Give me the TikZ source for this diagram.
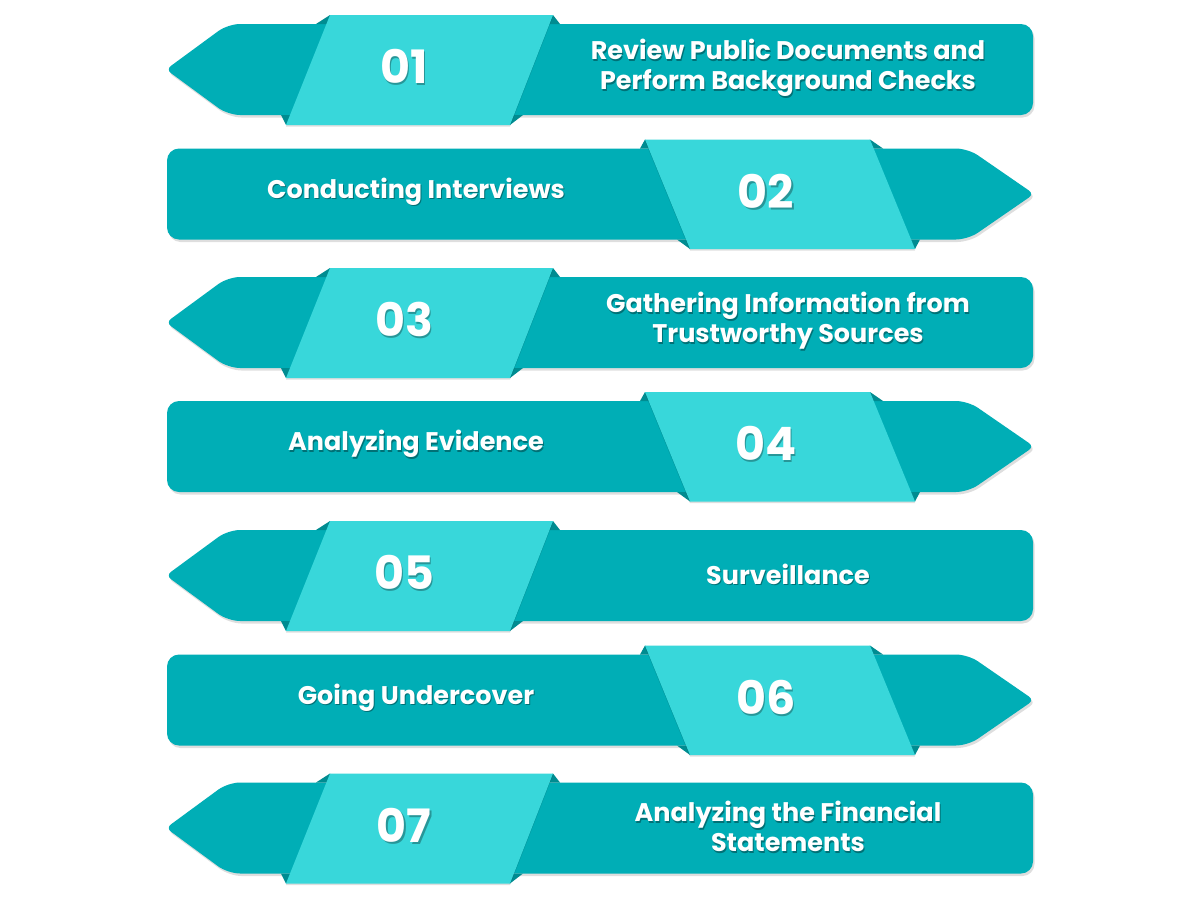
\documentclass[tikz,border=0pt]{standalone}
\usepackage{fontspec}
\setmainfont{Poppins}
\definecolor{bandc}{HTML}{00AEB6}
\definecolor{parac}{HTML}{38D7DA}
\definecolor{foldc}{HTML}{008C91}
\tikzset{
  bandfill/.style={fill=bandc},
  parafill/.style={fill=parac},
  foldfill/.style={fill=foldc},
  dropshade/.style={fill=black,opacity=0.13},
  txt/.style={text=white,font=\bfseries\fontsize{25.5}{30}\selectfont,align=center,inner sep=0pt},
  txtshadow/.style={text=black,text opacity=0.35,font=\bfseries\fontsize{25.5}{30}\selectfont,align=center,inner sep=0pt},
  numtxt/.style={text=white,font=\bfseries\fontsize{46}{46}\selectfont,inner sep=0pt},
  numshadow/.style={text=black,text opacity=0.3,font=\bfseries\fontsize{46}{46}\selectfont,inner sep=0pt},
}
% odd banner: arrow to the left, number at left
\newcommand\oddbanner[4]{%
  \pgfmathsetmacro\bT{#1-45.5}\pgfmathsetmacro\bB{#1+45.5}%
  \pgfmathsetmacro\pT{#1-54.5}\pgfmathsetmacro\pB{#1+55.5}%
  \pgfmathsetmacro\cY{#1}\pgfmathsetmacro\tY{#1-1.5}\pgfmathsetmacro\nY{#1-3}%
  \fill[dropshade,shift={(1.5,2.5)},rounded corners=12] (600,\bT) -- (1033,\bT) -- (1033,\bB) -- (228,\bB) [rounded corners=6]-- (166,\cY) [rounded corners=12]-- (228,\bT) -- cycle;
  \fill[bandfill,rounded corners=12] (600,\bT) -- (1033,\bT) -- (1033,\bB) -- (228,\bB) [rounded corners=6]-- (166,\cY) [rounded corners=12]-- (228,\bT) -- cycle;
  \fill[foldfill] (330,\pT) -- (316,\bT) -- (336,\bT) -- cycle;
  \fill[foldfill] (553,\pT) -- (560,\bT) -- (543,\bT) -- cycle;
  \fill[foldfill] (286,\pB) -- (281,\bB) -- (296,\bB) -- cycle;
  \fill[foldfill] (510,\pB) -- (523,\bB) -- (503,\bB) -- cycle;
  \fill[dropshade,shift={(0,1.5)}] (330,\pT) -- (553,\pT) -- (510,\pB) -- (286,\pB) -- cycle;
  \fill[parafill] (330,\pT) -- (553,\pT) -- (510,\pB) -- (286,\pB) -- cycle;
  \node[numshadow] (ns#4) at (405.5,\nY+2) {#2};
  \node[numtxt] (n#4) at (404,\nY) {#2};
  \node[txtshadow] (ts#4) at (789,\tY+1.5) {#3};
  \node[txt] (t#4) at (788,\tY) {#3};
}
% even banner: arrow to the right, number at right
\newcommand\evenbanner[4]{%
  \pgfmathsetmacro\bT{#1-45.5}\pgfmathsetmacro\bB{#1+45.5}%
  \pgfmathsetmacro\pT{#1-54.5}\pgfmathsetmacro\pB{#1+55}%
  \pgfmathsetmacro\cY{#1}\pgfmathsetmacro\tY{#1-2.5}\pgfmathsetmacro\nY{#1-3}%
  \fill[dropshade,shift={(1.5,2.5)},rounded corners=12] (600,\bT) -- (968,\bT) [rounded corners=6]-- (1034,\cY) [rounded corners=12]-- (968,\bB) -- (167,\bB) -- (167,\bT) -- cycle;
  \fill[bandfill,rounded corners=12] (600,\bT) -- (968,\bT) [rounded corners=6]-- (1034,\cY) [rounded corners=12]-- (968,\bB) -- (167,\bB) -- (167,\bT) -- cycle;
  \fill[foldfill] (645,\pT) -- (640,\bT) -- (656,\bT) -- cycle;
  \fill[foldfill] (870,\pT) -- (883,\bT) -- (863,\bT) -- cycle;
  \fill[foldfill] (690,\pB) -- (677,\bB) -- (697,\bB) -- cycle;
  \fill[foldfill] (915,\pB) -- (920,\bB) -- (903,\bB) -- cycle;
  \fill[dropshade,shift={(0,1.5)}] (645,\pT) -- (870,\pT) -- (915,\pB) -- (690,\pB) -- cycle;
  \fill[parafill] (645,\pT) -- (870,\pT) -- (915,\pB) -- (690,\pB) -- cycle;
  \node[numshadow] (ns#4) at (767.5,\nY+2) {#2};
  \node[numtxt] (n#4) at (766,\nY) {#2};
  \node[txtshadow] (ts#4) at (417,\tY+1.5) {#3};
  \node[txt] (t#4) at (416,\tY) {#3};
}
\begin{document}
\begin{tikzpicture}[x=1pt,y=-1pt]
  \useasboundingbox[fill=white] (0,0) rectangle (1200,900);
  \oddbanner{69.5}{01}{Review Public Documents and\\Perform Background Checks}{1}
  \evenbanner{194}{02}{Conducting Interviews}{2}
  \oddbanner{322.5}{03}{Gathering Information from\\Trustworthy Sources}{3}
  \evenbanner{446.5}{04}{Analyzing Evidence}{4}
  \oddbanner{575.5}{05}{Surveillance}{5}
  \evenbanner{700}{06}{Going Undercover}{6}
  \oddbanner{828}{07}{Analyzing the Financial\\Statements}{7}
\end{tikzpicture}
\end{document}
